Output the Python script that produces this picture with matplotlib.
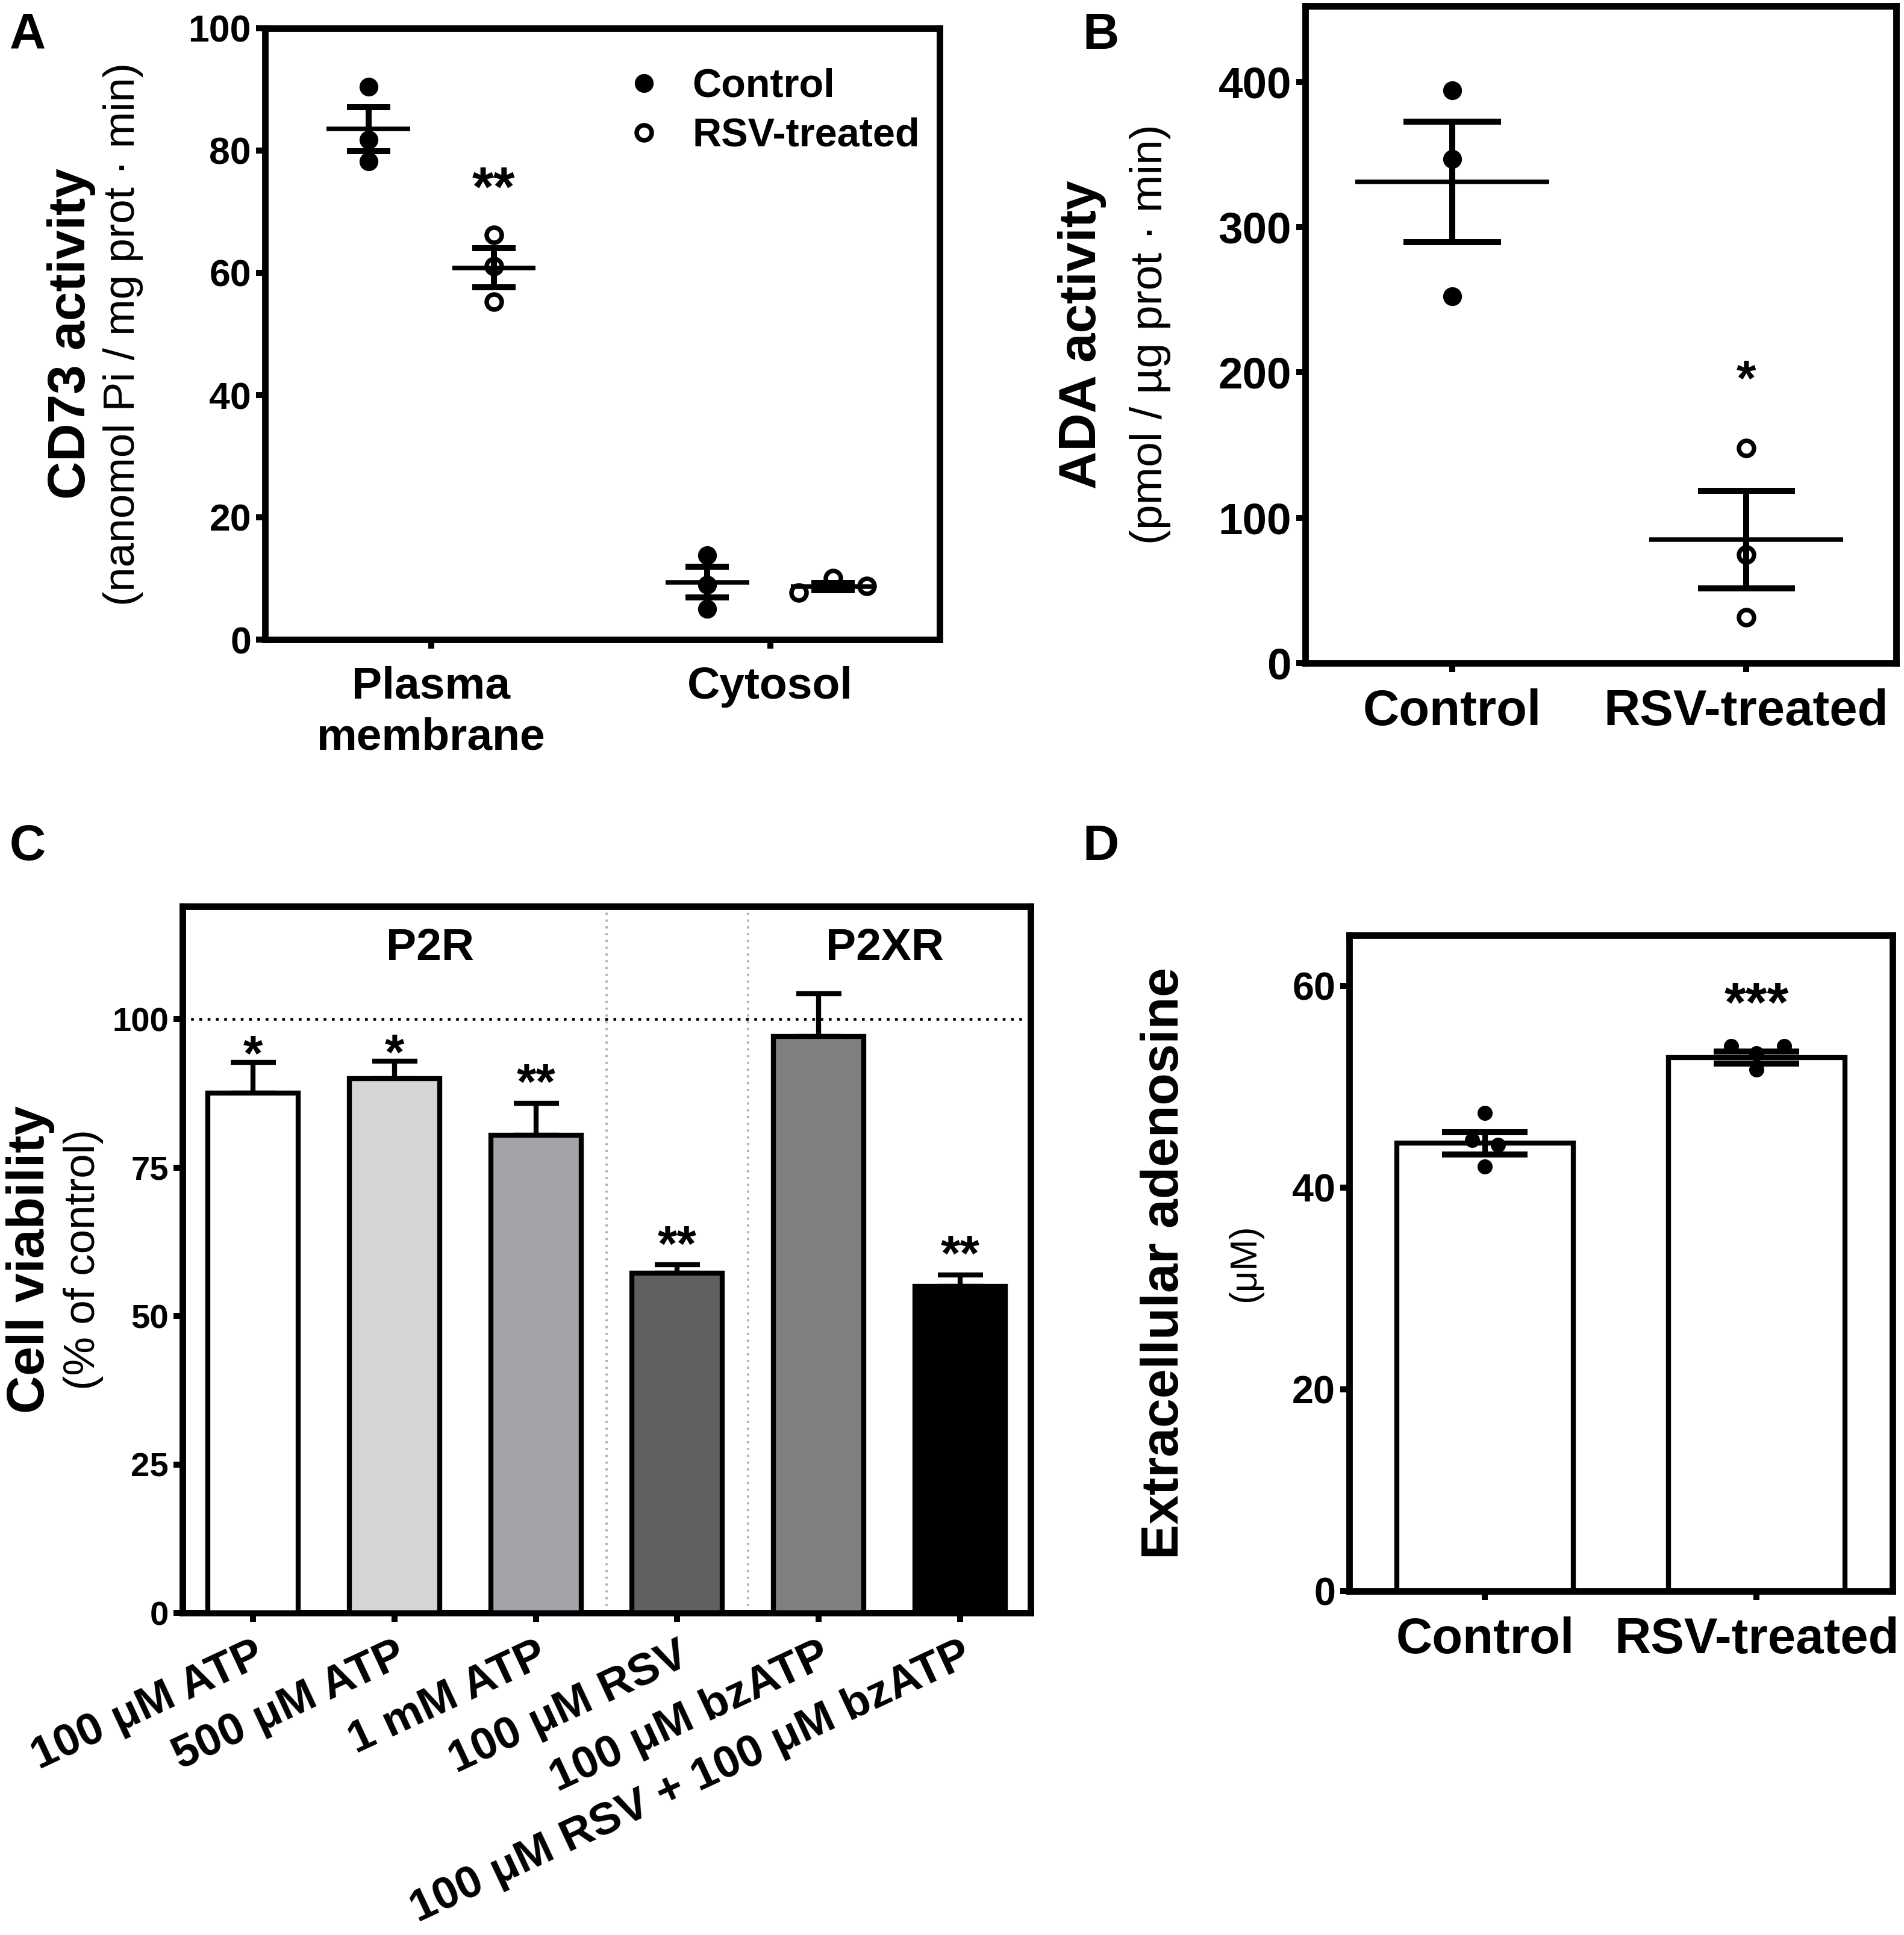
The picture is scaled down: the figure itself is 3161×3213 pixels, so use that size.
import matplotlib
matplotlib.use('Agg')
import matplotlib.pyplot as plt
from matplotlib.lines import Line2D

plt.rcParams['font.family'] = ['Liberation Sans', 'DejaVu Sans']
plt.rcParams['font.weight'] = 'bold'

# ---------------- data ----------------
# Panel A: CD73 activity
A_groups = ['Plasma\nmembrane', 'Cytosol']
A_ctrl_points = [[90.4, 81.8, 78.2], [13.8, 9.0, 5.0]]
A_rsv_points = [[66.2, 61.1, 55.3], [7.7, 10.0, 8.8]]
A_ctrl_mean = [83.5, 9.4]
A_ctrl_sem = [3.6, 2.5]
A_rsv_mean = [60.8, 8.7]
A_rsv_sem = [3.2, 0.6]
A_sig = ['**', '']

# Panel B: ADA activity
B_groups = ['Control', 'RSV-treated']
B_points = [[394.2, 346.7, 252.2], [147.8, 74.6, 31.6]]
B_mean = [331.0, 84.9]
B_sem = [41.6, 33.7]
B_sig = ['', '*']

# Panel C: cell viability
C_labels = ['100 μM ATP', '500 μM ATP', '1 mM ATP', '100 μM RSV',
            '100 μM bzATP', '100 μM RSV + 100 μM bzATP']
C_mean = [87.6, 90.0, 80.4, 57.2, 97.1, 55.0]
C_sem = [5.1, 2.9, 5.4, 1.4, 7.2, 1.9]
C_sig = ['*', '*', '**', '**', '', '**']
C_colors = ['#ffffff', '#d6d6d6', '#a4a4a8', '#606060', '#808080', '#000000']
C_sections = ['P2R', 'P2XR']

# Panel D: extracellular adenosine
D_groups = ['Control', 'RSV-treated']
D_mean = [44.4, 52.9]
D_sem = [1.1, 0.6]
D_points = [[47.4, 44.7, 44.2, 42.1], [54.0, 53.3, 54.0, 51.7]]
D_sig = ['', '***']

# ---------------- layout helpers ----------------
W, H, DPI = 3162, 3213, 300
fig = plt.figure(figsize=(W / DPI, H / DPI), dpi=DPI)


def ax_px(l, t, r, b):
    return fig.add_axes([l / W, 1 - b / H, (r - l) / W, (b - t) / H])


def style(ax, fs):
    for s in ax.spines.values():
        s.set_linewidth(2.6)
    ax.tick_params(width=2.4, length=3.5, labelsize=fs, pad=2)


def ylabels(ax, main, sub, xm, xs, subsize):
    pos = ax.get_position()
    yc = (pos.y0 + pos.y1) / 2
    fig.text(xm / W, yc, main, rotation=90, ha='center', va='center',
             fontsize=21, fontweight='bold')
    fig.text(xs / W, yc, sub, rotation=90, ha='center', va='center',
             fontsize=subsize, fontweight='normal')


LW_MEAN, LW_ERR = 1.8, 2.4

# ---------------- Panel A ----------------
axA = ax_px(440, 47, 1560, 1062)
xA = [1, 2]
offA = 0.185
jitA = [[0, 0, 0], [-0.10, 0, 0.10]]
for i in range(len(A_groups)):
    xc = xA[i] - offA
    xr = xA[i] + offA
    axA.plot([xc] * len(A_ctrl_points[i]), A_ctrl_points[i], 'o', color='black',
             ms=6.5, zorder=2, clip_on=False)
    axA.plot([xr + j for j in jitA[i]], A_rsv_points[i], 'o', mfc='white',
             mec='black', mew=1.8, ms=6.0, zorder=2, clip_on=False)
    for x, m, s in [(xc, A_ctrl_mean[i], A_ctrl_sem[i]), (xr, A_rsv_mean[i], A_rsv_sem[i])]:
        axA.hlines(m, x - 0.123, x + 0.123, color='black', lw=LW_MEAN, zorder=3)
        axA.vlines(x, m - s, m + s, color='black', lw=LW_ERR, zorder=3)
        axA.hlines([m - s, m + s], x - 0.064, x + 0.064, color='black', lw=LW_ERR, zorder=3)
    if A_sig[i]:
        axA.text(xr, max(A_rsv_points[i]) + 4.8, A_sig[i], ha='center', va='baseline',
                 fontsize=22, fontweight='bold')
axA.set_xlim(0.51, 2.5)
axA.set_ylim(0, 100)
axA.set_yticks(range(0, 101, 20))
axA.set_xticks(xA)
axA.set_xticklabels(A_groups, fontsize=18, linespacing=1.3)
style(axA, 15)
axA.tick_params(axis='x', labelsize=18, pad=7)
handles = [Line2D([], [], marker='o', ls='', color='black', ms=6.5),
           Line2D([], [], marker='o', ls='', mfc='white', mec='black', mew=1.8, ms=6.0)]
axA.legend(handles, ['Control', 'RSV-treated'], loc='upper left',
           bbox_to_anchor=(0.538, 0.935), frameon=False, fontsize=16,
           handlelength=0.8, handletextpad=0.8, labelspacing=0.3,
           borderaxespad=0, borderpad=0)
ylabels(axA, 'CD73 activity', '(nanomol Pi / mg prot · min)', 119, 205, 17.5)

# ---------------- Panel B ----------------
axB = ax_px(2167, 10, 3148, 1101)
xB = [0, 1]
for i in range(len(B_groups)):
    x = xB[i]
    if i == 0:
        axB.plot([x] * 3, B_points[i], 'o', color='black', ms=6.5, zorder=2)
    else:
        axB.plot([x] * 3, B_points[i], 'o', mfc='white', mec='black', mew=1.8,
                 ms=6.0, zorder=2)
    m, s = B_mean[i], B_sem[i]
    axB.hlines(m, x - 0.33, x + 0.33, color='black', lw=LW_MEAN, zorder=3)
    axB.vlines(x, m - s, m + s, color='black', lw=LW_ERR, zorder=3)
    axB.hlines([m - s, m + s], x - 0.165, x + 0.165, color='black', lw=LW_ERR, zorder=3)
    if B_sig[i]:
        axB.text(x, max(B_points[i]) + 36, B_sig[i], ha='center', va='baseline',
                 fontsize=20, fontweight='bold')
axB.set_xlim(-0.5, 1.51)
axB.set_ylim(0, 452)
axB.set_yticks(range(0, 401, 100))
axB.set_xticks(xB)
axB.set_xticklabels(B_groups)
style(axB, 17.5)
axB.tick_params(axis='x', labelsize=20, pad=6.5)
ylabels(axB, 'ADA activity', '(pmol / µg prot · min)', 1797, 1910, 18)

# ---------------- Panel C ----------------
axC = ax_px(303, 1505, 1711, 2678)
xC = list(range(len(C_labels)))
axC.bar(xC, C_mean, width=0.64, color=C_colors, edgecolor='black', linewidth=2.0, zorder=3)
axC.errorbar(xC, C_mean, yerr=[[0] * len(C_sem), C_sem], fmt='none', ecolor='black',
             elinewidth=2.0, capsize=9, capthick=2.0, zorder=2)
for x, m, s, t in zip(xC, C_mean, C_sem, C_sig):
    if t:
        gap = -1.4 if len(t) == 1 else 0.7
        axC.text(x, m + s + gap, t, ha='center', va='baseline', fontsize=20,
                 fontweight='bold', zorder=4)
axC.axhline(100, color='black', ls=(0, (1, 2)), lw=1.1, zorder=1)
for xv in [2.5, 3.5]:
    axC.axvline(xv, color='#b0b0b0', ls=(0, (1, 2)), lw=0.9, zorder=1)
axC.text(1.25, 112, C_sections[0], ha='center', va='center', fontsize=18)
axC.text(4.47, 112, C_sections[1], ha='center', va='center', fontsize=18)
axC.set_xlim(-0.5, 5.5)
axC.set_ylim(0, 119)
axC.set_yticks([0, 25, 50, 75, 100])
axC.set_xticks(xC)
style(axC, 13.5)
axC.tick_params(axis='x', pad=5)
axC.set_xticklabels(C_labels, rotation=25, ha='right', va='top',
                    rotation_mode='anchor', fontsize=18)
ylabels(axC, 'Cell viability', '(% of control)', 51, 139, 17.5)

# ---------------- Panel D ----------------
axD = ax_px(2240, 1553, 3142, 2642)
xD = [0, 1]
jitD = [[0, -0.047, 0.047, 0], [-0.095, 0, 0.1, 0]]
axD.bar(xD, D_mean, width=0.65, color='white', edgecolor='black', linewidth=2.0, zorder=2)
axD.errorbar(xD, D_mean, yerr=D_sem, fmt='none', ecolor='black', elinewidth=2.2,
             capsize=17, capthick=2.4, zorder=4)
for i in range(len(D_groups)):
    axD.plot([xD[i] + j for j in jitD[i]], D_points[i], 'o', color='black', ms=5.0, zorder=3)
    if D_sig[i]:
        axD.text(xD[i], max(D_points[i]) + 2.5, D_sig[i], ha='center', va='baseline',
                 fontsize=22, fontweight='bold')
axD.set_xlim(-0.5, 1.5)
axD.set_ylim(0, 65)
axD.set_yticks(range(0, 61, 20))
axD.set_xticks(xD)
axD.set_xticklabels(D_groups)
style(axD, 15.5)
axD.tick_params(axis='x', labelsize=20, pad=6.5)
ylabels(axD, 'Extracellular adenosine', '(μM)', 1934, 2067, 15)

# ---------------- panel letters ----------------
for letter, x, y in [('A', 16, 20), ('B', 1797, 20), ('C', 16, 1367), ('D', 1797, 1367)]:
    fig.text(x / W, 1 - y / H, letter, ha='left', va='top', fontsize=20, fontweight='bold')

fig.savefig('out.png', dpi=DPI)
